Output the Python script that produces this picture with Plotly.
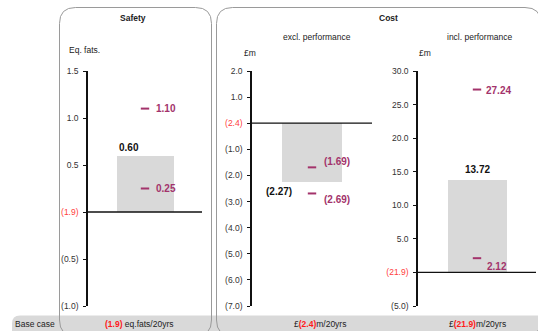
import plotly.graph_objects as go

# ---- data -------------------------------------------------------------
panels = ["Safety", "excl. performance", "incl. performance"]
bar_values = [0.60, -2.27, 13.72]
bar_labels = ["0.60", "(2.27)", "13.72"]
marker_values = [[1.10, 0.25], [-1.69, -2.69], [27.24, 2.12]]
marker_labels = [["1.10", "0.25"], ["(1.69)", "(2.69)"], ["27.24", "2.12"]]
units = ["Eq. fats.", "£m", "£m"]
tick_vals = [
    [1.5, 1.0, 0.5, 0.0, -0.5, -1.0],
    [2.0, 1.0, 0.0, -1.0, -2.0, -3.0, -4.0, -5.0, -6.0, -7.0],
    [30.0, 25.0, 20.0, 15.0, 10.0, 5.0, 0.0, -5.0],
]
tick_text = [
    ["1.5", "1.0", "0.5", "(1.9)", "(0.5)", "(1.0)"],
    ["2.0", "1.0", "(2.4)", "(1.0)", "(2.0)", "(3.0)", "(4.0)", "(5.0)", "(6.0)", "(7.0)"],
    ["30.0", "25.0", "20.0", "15.0", "10.0", "5.0", "(21.9)", "(5.0)"],
]
y_ranges = [[-1.0, 1.5], [-7.0, 2.0], [-5.0, 30.0]]
base_case = ["(1.9)", "(2.4)", "(21.9)"]
base_prefix = ["", "£", "£"]
base_suffix = [" eq.fats/20yrs", "m/20yrs", "m/20yrs"]

# ---- styling ----------------------------------------------------------
W, H = 538, 331
FONT = "Liberation Sans, Arial, sans-serif"
PURPLE = "#A3336B"
RED = "#FF4040"
BAR = "#D9D9D9"
TXT = "#222222"

x_domains = [[88 / W, 202 / W], [252 / W, 372 / W], [418 / W, 536 / W]]
y_domain = [25 / H, 260 / H]
# per-panel label offsets (pixels): bar label (x, y, xanchor, yanchor), markers
bar_label_pos = [(-0.5, 1, "left", "bottom"), (-0.5, -2, "center", "top"), (0.0, 3, "center", "bottom")]
bar_label_xshift = [0, -3, 0]
marker_label_shift = [[(9, 0), (9, 0)], [(10, 6), (10, -6)], [(7, -1), (8, -8)]]

fig = go.Figure()
annotations = []
shapes = []


def px(x, y):
    return x / W, 1 - y / H


def rounded(x0, y0, x1, y1, r):
    # rounded rectangle path in paper coordinates, built from pixel values
    rx, ry = r / W, r / H
    a0, b0 = px(x0, y0)
    a1, b1 = px(x1, y1)
    return (f"M {a0 + rx} {b0} L {a1 - rx} {b0} Q {a1} {b0} {a1} {b0 - ry} "
            f"L {a1} {b1 + ry} Q {a1} {b1} {a1 - rx} {b1} L {a0 + rx} {b1} "
            f"Q {a0} {b1} {a0} {b1 + ry} L {a0} {b0 - ry} Q {a0} {b0} {a0 + rx} {b0} Z")


# base-case strip along the bottom
shapes.append(dict(type="path", xref="paper", yref="paper", path=rounded(12, 315.5, 545, 345, 8),
                   fillcolor=BAR, line=dict(width=0), layer="below"))

# panel frames
for (x0, x1) in [(59.5, 211.5), (216.5, 541)]:
    shapes.append(dict(type="path", xref="paper", yref="paper", path=rounded(x0, 7.5, x1, 336, 16),
                       line=dict(color="#9A9A9A", width=1), fillcolor="rgba(0,0,0,0)", layer="above"))

for i in range(3):
    n = "" if i == 0 else str(i + 1)
    xa, ya = "x" + n, "y" + n
    fig.add_trace(go.Bar(x=[0], y=[bar_values[i]], width=[1.0], marker=dict(color=BAR, line=dict(width=0)),
                         xaxis=xa, yaxis=ya, hoverinfo="skip", showlegend=False))
    fig.add_trace(go.Scatter(x=[0] * len(marker_values[i]), y=marker_values[i], mode="markers",
                             marker=dict(symbol="line-ew", size=6, line=dict(color=PURPLE, width=2)),
                             xaxis=xa, yaxis=ya, hoverinfo="skip", showlegend=False))

    ticks = [f"<span style='color:{RED}'>{t}</span>" if v == 0 else t for v, t in zip(tick_vals[i], tick_text[i])]
    fig.update_layout(**{
        "xaxis" + n: dict(domain=x_domains[i], range=[-1, 1], visible=False, fixedrange=True,
                          anchor=ya, automargin=False),
        "yaxis" + n: dict(domain=y_domain, range=y_ranges[i], anchor=xa, showgrid=False, zeroline=False,
                          showline=True, linecolor="#111111", linewidth=1.5, ticks="outside", ticklen=3,
                          tickcolor="#111111", tickwidth=1, tickvals=tick_vals[i], ticktext=ticks,
                          tickfont=dict(family=FONT, size=8.5, color="#333333"), ticklabelstandoff=3,
                          fixedrange=True, automargin=False),
    })

    # zero line across the panel
    shapes.append(dict(type="line", xref=xa + " domain", yref=ya, x0=0, x1=1, y0=0, y1=0,
                       line=dict(color="#111111", width=1.3)))

    # bar value label
    bx, ys, xanc, yanc = bar_label_pos[i]
    annotations.append(dict(x=bx, y=bar_values[i], xref=xa, yref=ya, text=f"<b>{bar_labels[i]}</b>",
                            showarrow=False, xanchor=xanc, yanchor=yanc, xshift=bar_label_xshift[i], yshift=ys,
                            font=dict(family=FONT, size=10, color="#111111")))
    # marker labels
    for v, t, (sx, sy) in zip(marker_values[i], marker_labels[i], marker_label_shift[i]):
        annotations.append(dict(x=0, y=v, xref=xa, yref=ya, text=f"<b>{t}</b>", showarrow=False,
                                xanchor="left", yanchor="middle", xshift=sx, yshift=sy,
                                font=dict(family=FONT, size=10, color=PURPLE)))


def label(x, y, text, size=8.5, bold=False, anchor="center", color=TXT):
    xp, yp = px(x, y)
    annotations.append(dict(x=xp, y=yp, xref="paper", yref="paper", text=f"<b>{text}</b>" if bold else text,
                            showarrow=False, xanchor=anchor, yanchor="middle",
                            font=dict(family=FONT, size=size, color=color)))


label(133, 18, "Safety", bold=True)
label(377, 18, "Cost", bold=True, anchor="left")
label(317, 37, panels[1])
label(479, 37, panels[2])
label(67, 50, units[0], anchor="left")
label(242, 53, units[1], anchor="left")
label(417, 53, units[2], anchor="left")
label(13, 323.5, "Base case", anchor="left")
for cx, pre, val, suf in zip([139, 320, 477], base_prefix, base_case, base_suffix):
    label(cx, 323.5, f"{pre}<span style='color:#FF1A1A'><b>{val}</b></span>{suf}")

fig.update_layout(width=W, height=H, margin=dict(l=0, r=0, t=0, b=0, autoexpand=False), paper_bgcolor="white",
                  plot_bgcolor="rgba(0,0,0,0)", shapes=shapes, annotations=annotations, bargap=0,
                  font=dict(family=FONT))
fig.write_html("out.html")
